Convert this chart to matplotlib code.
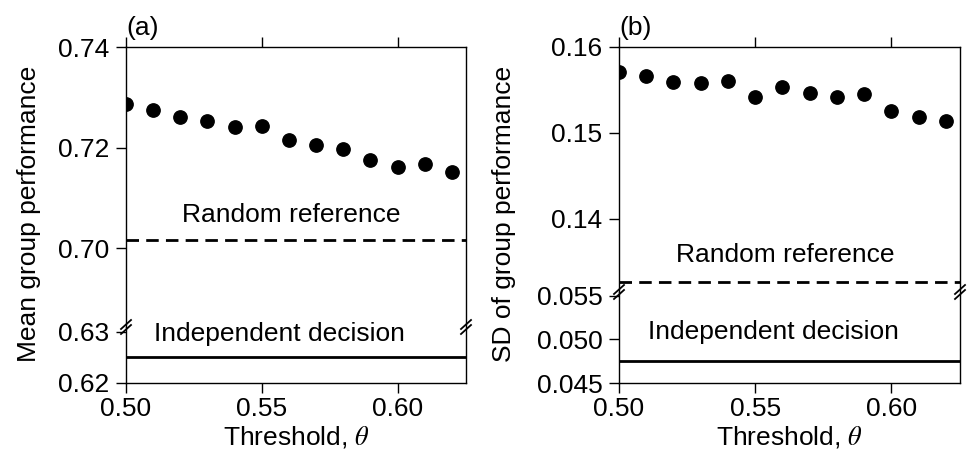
import matplotlib
matplotlib.use("Agg")
import matplotlib.pyplot as plt
import matplotlib.transforms as mtransforms
from matplotlib.lines import Line2D

plt.rcParams['font.family'] = ['Liberation Sans', 'DejaVu Sans']
plt.rcParams['mathtext.fontset'] = 'stix'

# ---------------- data ----------------
thresholds = [0.50, 0.51, 0.52, 0.53, 0.54, 0.55, 0.56, 0.57, 0.58, 0.59, 0.60, 0.61, 0.62]
mean_perf = [0.7287, 0.7275, 0.7260, 0.7252, 0.7240, 0.7243, 0.7215, 0.7204, 0.7197,
             0.7175, 0.7162, 0.7167, 0.7151]
sd_perf = [0.1571, 0.1566, 0.1559, 0.1558, 0.1560, 0.1542, 0.1554, 0.1546, 0.1542,
           0.1545, 0.1526, 0.1519, 0.1514]
mean_random_ref = 0.7016
mean_independent = 0.6251
sd_random_ref = 0.1327
sd_independent = 0.0475

x_ticks = [0.50, 0.55, 0.60]
x_ticklabels = ['0.50', '0.55', '0.60']
a_top_ticks = [0.70, 0.72, 0.74]
a_top_labels = ['0.70', '0.72', '0.74']
a_bot_ticks = [0.62, 0.63]
a_bot_labels = ['0.62', '0.63']
b_top_ticks = [0.14, 0.15, 0.16]
b_top_labels = ['0.14', '0.15', '0.16']
b_bot_ticks = [0.045, 0.050, 0.055]
b_bot_labels = ['0.045', '0.050', '0.055']

panel_labels = ['(a)', '(b)']
ylabels = ['Mean group performance', 'SD of group performance']
xlabel = r'Threshold, $\theta$'
txt_random = 'Random reference'
txt_indep = 'Independent decision'

# ---------------- layout ----------------
W, H = 972, 453
fig = plt.figure(figsize=(W / 100, H / 100), dpi=100)

FS = 19
XLIM = (0.50, 0.6252)


def px(x0, y0, x1, y1):
    # rectangle in pixel coords (top-left origin) -> figure fraction
    return [x0 / W, 1 - y1 / H, (x1 - x0) / W, (y1 - y0) / H]


def make_panel(left, right, brk, top_ylim, bot_ylim, top_ticks, top_labels,
               bot_ticks, bot_labels, yvals, rand_val, indep_val,
               rand_txt_y, indep_txt_y, label, ylab, ylab_x):
    ax_t = fig.add_axes(px(left, 47, right, brk))
    ax_b = fig.add_axes(px(left, brk, right, 383))
    for ax in (ax_t, ax_b):
        ax.set_xlim(*XLIM)
        ax.tick_params(direction='out', length=7, width=1, labelsize=FS, pad=2)
        ax.tick_params(axis='y', pad=5)
        for s in ax.spines.values():
            s.set_linewidth(1.0)
    # top axes
    ax_t.set_ylim(*top_ylim)
    ax_t.set_yticks(top_ticks)
    ax_t.set_yticklabels(top_labels)
    ax_t.spines['bottom'].set_visible(False)
    ax_t.xaxis.tick_top()
    ax_t.set_xticks(x_ticks)
    ax_t.set_xticklabels([])
    ax_t.tick_params(axis='x', which='both', top=True, bottom=False, labeltop=False)
    # bottom axes
    ax_b.set_ylim(*bot_ylim)
    ax_b.set_yticks(bot_ticks)
    ax_b.set_yticklabels(bot_labels)
    ax_b.spines['top'].set_visible(False)
    ax_b.set_xticks(x_ticks)
    ax_b.set_xticklabels(x_ticklabels)
    ax_b.tick_params(axis='x', top=False, pad=3)
    ax_b.set_xlabel(xlabel, fontsize=FS, labelpad=2)

    # data
    ax_t.plot(thresholds, yvals, 'o', color='black', markersize=9.6, linestyle='none')
    ax_t.axhline(rand_val, color='black', lw=2.0, dashes=(4.5, 2.6))
    ax_b.axhline(indep_val, color='black', lw=2.0)

    xm = (XLIM[0] + XLIM[1]) / 2
    ax_t.text(xm - 0.0017, rand_txt_y, txt_random, ha='center', va='center', fontsize=FS)
    ax_b.text(xm - 0.006, indep_txt_y, txt_indep, ha='center', va='center',
              fontsize=FS, clip_on=False)

    # break marks "//" on both spines at the break
    for xa in (0, 1):
        for dyo in (-2.5, 2.5):
            tr_a = mtransforms.offset_copy(ax_b.transAxes, fig=fig, x=-5, y=dyo - 4.5, units='dots')
            tr_b = mtransforms.offset_copy(ax_b.transAxes, fig=fig, x=5, y=dyo + 4.5, units='dots')
            pa = tr_a.transform((xa, 1))
            pb = tr_b.transform((xa, 1))
            fig.add_artist(Line2D([pa[0] / W, pb[0] / W], [pa[1] / H, pb[1] / H],
                                  transform=fig.transFigure, color='black', lw=1.3))

    fig.text(left / W, 1 - 40 / H, label, ha='left', va='bottom', fontsize=FS)
    fig.text(ylab_x / W, 1 - 214 / H, ylab, rotation=90, ha='center', va='center', fontsize=FS)
    return ax_t, ax_b


make_panel(126, 466, 327, (0.68428, 0.74), (0.62, 0.63098),
           a_top_ticks, a_top_labels, a_bot_ticks, a_bot_labels,
           mean_perf, mean_random_ref, mean_independent, 0.7066, 0.6296,
           panel_labels[0], ylabels[0], 29)

make_panel(619, 960, 292, (0.13151, 0.16), (0.045, 0.05543),
           b_top_ticks, b_top_labels, b_bot_ticks, b_bot_labels,
           sd_perf, sd_random_ref, sd_independent, 0.1358, 0.0508,
           panel_labels[1], ylabels[1], 504)

fig.savefig('out.png', dpi=100)
